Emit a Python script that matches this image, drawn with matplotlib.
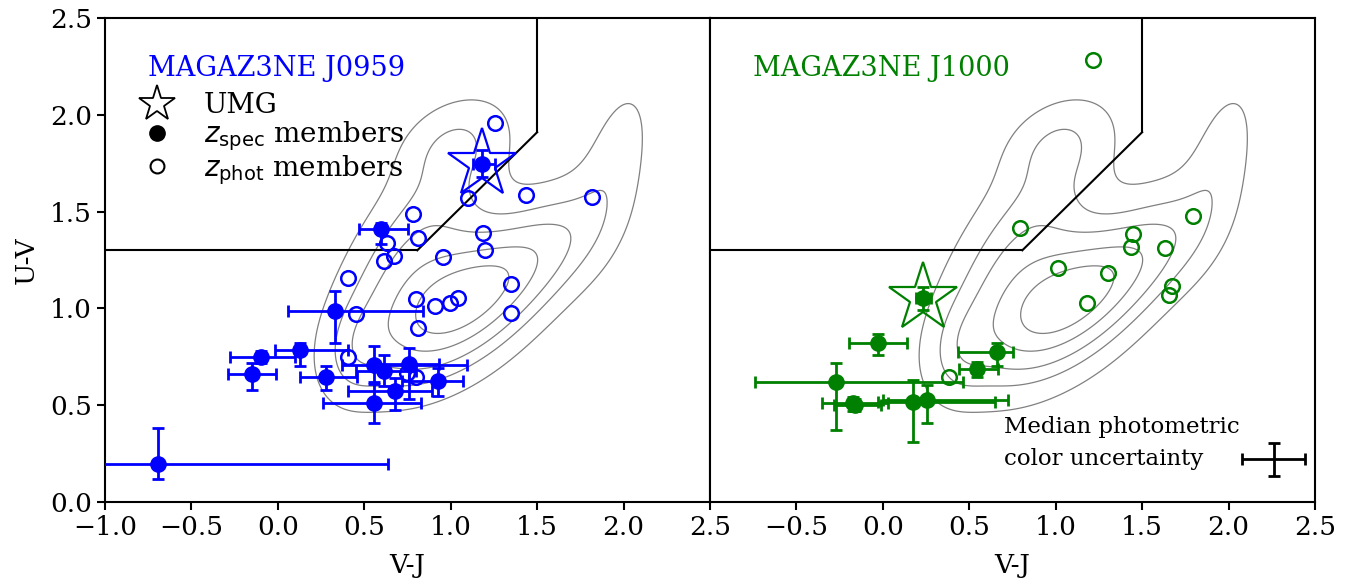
import numpy as np
import matplotlib
matplotlib.use("Agg")
import matplotlib.pyplot as plt
from matplotlib.lines import Line2D

plt.rcParams['font.family'] = ['DejaVu Serif']
plt.rcParams['mathtext.fontset'] = 'dejavusans'

# ---------------- data ----------------
# J0959 spectroscopic members: x, y, bar extents
j0959_spec_x = [0.596, 0.330, -0.098, 0.128, -0.148, 0.278, 0.558, 0.760, 0.616, 0.924, 0.677, 0.556, -0.692]
j0959_spec_y = [1.408, 0.987, 0.751, 0.785, 0.661, 0.646, 0.708, 0.711, 0.678, 0.627, 0.573, 0.510, 0.196]
j0959_spec_xlo = [0.471, 0.060, -0.277, -0.017, -0.290, 0.128, 0.370, 0.550, 0.450, 0.720, 0.407, 0.259, -1.300]
j0959_spec_xhi = [0.754, 0.841, 0.100, 0.407, -0.011, 0.459, 1.092, 0.930, 0.800, 1.073, 0.889, 0.828, 0.639]
j0959_spec_ylo = [1.333, 0.820, 0.720, 0.700, 0.578, 0.578, 0.620, 0.532, 0.600, 0.550, 0.475, 0.406, 0.117]
j0959_spec_yhi = [1.440, 1.090, 0.780, 0.820, 0.720, 0.700, 0.806, 0.797, 0.760, 0.690, 0.640, 0.610, 0.380]

j0959_umg = dict(x=1.179, y=1.744, xlo=1.130, xhi=1.256, ylo=1.680, yhi=1.818)

j0959_phot_x = [1.256, 1.098, 1.435, 1.818, 0.780, 0.808, 0.634, 0.673, 0.616, 1.184, 1.198, 0.953,
                0.404, 1.346, 1.346, 0.802, 0.908, 0.995, 1.040, 0.450, 0.808, 0.404, 0.745, 0.798]
j0959_phot_y = [1.956, 1.572, 1.586, 1.577, 1.488, 1.365, 1.340, 1.271, 1.245, 1.391, 1.302, 1.267,
                1.155, 1.126, 0.975, 1.049, 1.012, 1.026, 1.052, 0.971, 0.897, 0.751, 0.665, 0.647]

# J1000 spectroscopic members
j1000_spec_x = [0.658, 0.546, -0.028, -0.271, -0.170, -0.160, 0.172, 0.253]
j1000_spec_y = [0.773, 0.685, 0.820, 0.620, 0.510, 0.500, 0.518, 0.527]
j1000_spec_xlo = [0.436, 0.442, -0.196, -0.740, -0.350, -0.280, -0.030, 0.000]
j1000_spec_xhi = [0.754, 0.667, 0.139, 0.465, 0.030, -0.010, 0.648, 0.725]
j1000_spec_ylo = [0.700, 0.645, 0.760, 0.370, 0.470, 0.470, 0.311, 0.406]
j1000_spec_yhi = [0.820, 0.725, 0.870, 0.720, 0.540, 0.530, 0.630, 0.604]

j1000_umg = dict(x=0.234, y=1.052, xlo=0.190, xhi=0.280, ylo=0.992, yhi=1.112)

j1000_phot_x = [1.217, 0.793, 1.448, 1.433, 1.632, 1.795, 1.015, 1.304, 1.179, 1.670, 1.656, 0.382]
j1000_phot_y = [2.283, 1.417, 1.384, 1.315, 1.310, 1.477, 1.210, 1.181, 1.026, 1.116, 1.069, 0.647]

# median photometric colour uncertainty
median_err_x, median_err_y = 2.26, 0.22
median_xerr, median_yerr = 0.18, 0.085

# UVJ quiescent selection boundary
uvj_floor = 1.3
uvj_slope, uvj_icpt = 0.88, 0.59
uvj_vj_max = 1.5

# background field population (Gaussian mixture description of its density)
#        main  shoulder upper-left blue-lobe quiescent dusty-SF dusty-red
bg_cx = [1.00, 1.25, 0.80, 0.45, 1.00, 1.62, 1.95]
bg_cy = [1.00, 1.12, 1.35, 0.78, 1.86, 1.37, 1.75]
bg_sx = [0.33, 0.28, 0.30, 0.12, 0.20, 0.22, 0.15]
bg_sy = [0.26, 0.20, 0.35, 0.16, 0.15, 0.20, 0.30]
bg_rho = [0.50, 0.55, 0.65, 0.20, 0.30, 0.40, 0.50]
bg_w = [0.80, 0.30, 0.35, 0.15, 0.20, 0.25, 0.18]
bg_levels = [0.10, 0.25, 0.40, 0.60, 0.80]

xticks_left = [-1.0, -0.5, 0.0, 0.5, 1.0, 1.5, 2.0, 2.5]
xticks_right = [-0.5, 0.0, 0.5, 1.0, 1.5, 2.0, 2.5]
yticks = [0.0, 0.5, 1.0, 1.5, 2.0, 2.5]

# ---------------- figure ----------------
fig = plt.figure(figsize=(13.63, 5.85), dpi=100)
axL = fig.add_axes([0.07704, 0.14188, 0.44387, 0.82735])
axR = fig.add_axes([0.52091, 0.14188, 0.44387, 0.82735])

gx = np.linspace(-1.0, 2.5, 400)
gy = np.linspace(0.0, 2.5, 400)
GX, GY = np.meshgrid(gx, gy)
dens = np.zeros_like(GX)
for cx, cy, sx, sy, r, w in zip(bg_cx, bg_cy, bg_sx, bg_sy, bg_rho, bg_w):
    dx = (GX - cx) / sx
    dy = (GY - cy) / sy
    q = (dx**2 - 2*r*dx*dy + dy**2) / (1 - r**2)
    dens += w * np.exp(-0.5 * q)
dens /= dens.max()

EB = dict(elinewidth=2.0, capsize=4.3, capthick=2.0)


def uvj_box(ax):
    x_knee = (uvj_floor - uvj_icpt) / uvj_slope
    y_top = uvj_slope * uvj_vj_max + uvj_icpt
    ax.plot([-1.0, x_knee], [uvj_floor, uvj_floor], color='k', lw=1.5, zorder=2)
    ax.plot([x_knee, uvj_vj_max], [uvj_floor, y_top], color='k', lw=1.5, zorder=2)
    ax.plot([uvj_vj_max, uvj_vj_max], [y_top, 2.5], color='k', lw=1.5, zorder=2)


def panel(ax, color, sx, sy, sxlo, sxhi, sylo, syhi, umg, px, py, title):
    ax.contour(GX, GY, dens, levels=bg_levels, colors='gray', linewidths=0.9, zorder=1)
    uvj_box(ax)
    sx = np.array(sx); sy = np.array(sy)
    xerr = [sx - np.array(sxlo), np.array(sxhi) - sx]
    yerr = [sy - np.array(sylo), np.array(syhi) - sy]
    ax.errorbar(sx, sy, xerr=xerr, yerr=yerr, fmt='o', color=color, ms=11, zorder=4, **EB)
    ax.plot(px, py, 'o', mfc='none', mec=color, ms=10.5, mew=1.8, zorder=3, ls='none')
    ax.errorbar([umg['x']], [umg['y']],
                xerr=[[umg['x'] - umg['xlo']], [umg['xhi'] - umg['x']]],
                yerr=[[umg['y'] - umg['ylo']], [umg['yhi'] - umg['y']]],
                fmt='o', color=color, ms=11, zorder=5, **EB)
    ax.plot([umg['x']], [umg['y']], marker='*', ms=52, mfc='none', mec=color, mew=1.6, zorder=6, ls='none')
    ax.text(0.071, 0.895, title, color=color, fontsize=19.5, transform=ax.transAxes, va='center', ha='left')
    ax.set_xlim(-1.0, 2.5)
    ax.set_ylim(0.0, 2.5)
    ax.set_xlabel('V-J', fontsize=19, labelpad=9)
    for s in ax.spines.values():
        s.set_linewidth(1.5)
    ax.tick_params(direction='out', length=6, width=1.5, labelsize=19)


panel(axL, 'blue', j0959_spec_x, j0959_spec_y, j0959_spec_xlo, j0959_spec_xhi, j0959_spec_ylo, j0959_spec_yhi,
      j0959_umg, j0959_phot_x, j0959_phot_y, 'MAGAZ3NE J0959')
panel(axR, 'green', j1000_spec_x, j1000_spec_y, j1000_spec_xlo, j1000_spec_xhi, j1000_spec_ylo, j1000_spec_yhi,
      j1000_umg, j1000_phot_x, j1000_phot_y, 'MAGAZ3NE J1000')

axL.set_xticks(xticks_left)
axR.set_xticks(xticks_right)
axL.set_yticks(yticks)
axR.set_yticks(yticks)
axR.tick_params(left=False, labelleft=False)
axL.set_ylabel('U-V', fontsize=19, labelpad=8)

handles = [Line2D([], [], marker='*', ms=27, mfc='none', mec='k', mew=1.3, ls='none'),
           Line2D([], [], marker='o', ms=11, color='k', ls='none'),
           Line2D([], [], marker='o', ms=10, mfc='none', mec='k', mew=1.5, ls='none')]
labels = ['UMG', r'$z_{\rm spec}$ members', r'$z_{\rm phot}$ members']
axL.legend(handles, labels, loc='upper left', bbox_to_anchor=(0.0035, 0.892), frameon=False,
           fontsize=20, handletextpad=0.68, labelspacing=0.0, borderpad=0.3)

axR.errorbar([median_err_x], [median_err_y], xerr=[median_xerr], yerr=[median_yerr],
             fmt='none', ecolor='k', **EB)
axR.text(2.065, 0.305, 'Median photometric\ncolor uncertainty', fontsize=16.5, ha='right', va='center',
         multialignment='left', linespacing=1.55)

fig.savefig('out.png', dpi=100)
